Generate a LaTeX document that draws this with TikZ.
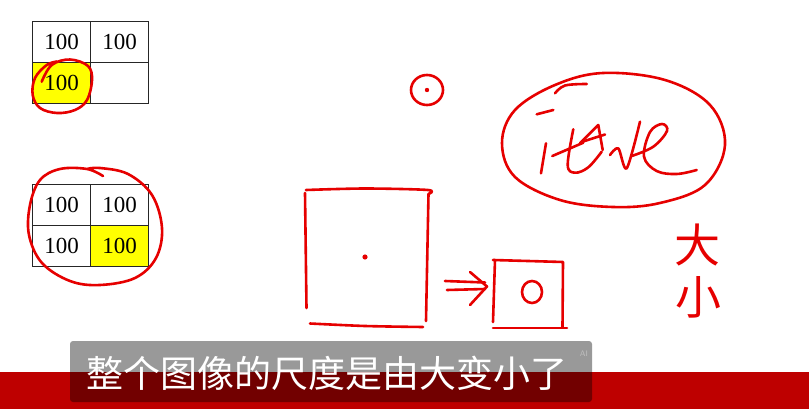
\documentclass[tikz,border=0pt]{standalone}
\usepackage{fontspec}
\setmainfont{Liberation Serif}
\newfontfamily\cjk{Noto Sans CJK SC}
\definecolor{pen}{RGB}{230,0,0}
\definecolor{band}{RGB}{190,0,0}
\definecolor{hl}{RGB}{255,255,0}
\tikzset{
  cell/.style={draw=black!85, line width=0.9pt, minimum width=58pt, minimum height=41pt, inner sep=0pt, font=\fontsize{23}{23}\selectfont},
  hand/.style={draw=pen, line width=2.6pt, line cap=round, line join=round},
  handtext/.style={text=pen, font=\cjk\fontsize{46}{46}\selectfont, inner sep=0pt},
}
\begin{document}
\begin{tikzpicture}[x=1pt,y=-1pt]
\useasboundingbox (0,0) rectangle (809,409);
\fill[white] (0,0) rectangle (809,409);
% table 1
\node[cell] (a11) at (61.5,41.5) {100};
\node[cell] (a12) at (119.5,41.5) {100};
\node[cell, fill=hl] (a21) at (61.5,82.5) {100};
\node[cell] (a22) at (119.5,82.5) {};
% table 2
\node[cell] (b11) at (61.5,205) {100};
\node[cell] (b12) at (119.5,205) {100};
\node[cell] (b21) at (61.5,246) {100};
\node[cell, fill=hl] (b22) at (119.5,246) {100};
% circle around yellow cell of table 1
\draw[hand] plot[smooth, tension=0.6] coordinates {(41.7,81.7) (51.7,65) (70,59.5) (88,66) (92,80) (87,100) (75,110) (57,113) (40,108) (32.7,95) (35,78) (46.7,65) (57,61.5)};
% circle around table 2
\draw[hand] plot[smooth, tension=0.6] coordinates {(103,176) (87,169) (60,169) (40,180) (30,205) (29,235) (42,263) (70,281) (100,285) (135,278) (156,258) (162,228) (152,195) (128,174) (100,168) (87,169)};
% small circle with dot
\draw[hand] (427,90) ellipse (16 and 15);
\fill[pen] (427,90) circle (2.2);
% large ellipse
\draw[hand] plot[smooth cycle, tension=0.6] coordinates {(603,73) (665,80) (710,105) (725,145) (705,185) (660,203) (613,207) (560,200) (515,177) (502,143) (515,110) (555,85)};
\draw[hand] plot[smooth, tension=0.6] coordinates {(555,93.3) (565,85.5) (586.7,84)};
% scribbled word inside ellipse
\draw[hand] (536.7,114.3) -- (553.3,110);
\draw[hand] (546,143.3) -- (541,173.3);
\draw[hand] (552.3,156) -- (583.3,142.7);
\draw[hand] plot[smooth, tension=0.6] coordinates {(573.3,129.3) (567.7,165) (575,172.7) (588.3,167.3) (601.7,151.7)};
\draw[hand] (580,143.3) -- (598.3,125) -- (602.7,150);
\draw[hand] (583,141.5) -- (605,134.5);
\draw[hand] plot[smooth, tension=0.5] coordinates {(610,155) (618.3,148.3) (626.7,168.3) (640,121.7)};
\draw[hand] plot[smooth, tension=0.6] coordinates {(631.7,156) (653.3,146.7) (667,131) (662,124) (650,132) (644,156.7) (656.7,171) (676.7,174) (696.7,170)};
% large square with centre dot
\draw[hand] plot[smooth, tension=0.5] coordinates {(306,190) (365,188.5) (428,190) (428.5,194)};
\draw[hand] (305,193) -- (306.5,308);
\draw[hand] (428.5,194) -- (426,321);
\draw[hand] plot[smooth, tension=0.5] coordinates {(310,323.5) (365,326) (423,327)};
\fill[pen] (365,257) circle (2.6);
% arrow
\draw[hand] (445,281) -- (485,282.5);
\draw[hand] (447,290) -- (485,289);
\draw[hand] (470,272) -- (487,286.5) -- (470,305);
% small square with circle
\draw[hand] (493,260) -- (563,262) -- (562.5,327);
\draw[hand] (495,260) -- (493,322);
\draw[hand] (493,328) -- (567,328);
\draw[hand] (532,292) ellipse (10 and 11);
% hand written characters
\node[handtext] (da) at (697,245) {大};
\node[handtext] (xiao) at (698,297) {小};
% bottom band and subtitle
\fill[band] (0,372) rectangle (809,409);
\fill[black, fill opacity=0.4, rounded corners=3pt] (70,341) rectangle (592,402);
\node[text=white, font=\cjk\fontsize{37}{37}\selectfont, inner sep=0pt] (sub) at (326.5,373) {整个图像的尺度是由大变小了};
\node[text=white!75!black, font=\sffamily\fontsize{8}{8}\selectfont, inner sep=0pt] (ai) at (584,354) {AI};
\end{tikzpicture}
\end{document}
